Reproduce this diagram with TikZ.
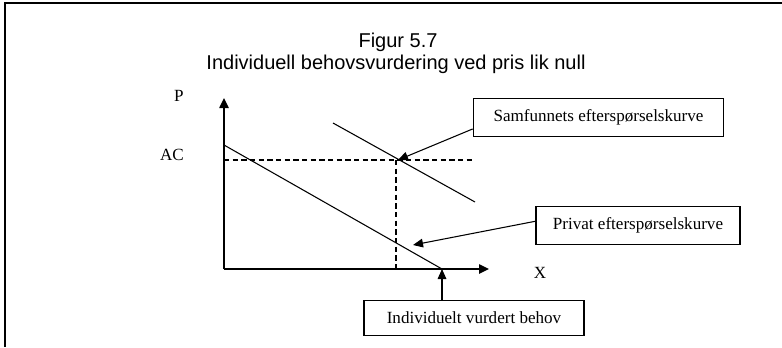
\documentclass[tikz,border=0pt]{standalone}
\usepackage{fontspec}
\setmainfont{Liberation Serif}
\newfontfamily\headfont{Liberation Sans}
\usetikzlibrary{arrows.meta}
\begin{document}
\begin{tikzpicture}[x=0.75pt,y=-0.75pt,
  frameline/.style={line width=1.5pt},
  axisline/.style={line width=1.1pt,-{Triangle[length=7.5pt,width=7pt]}},
  curve/.style={line width=0.8pt},
  guide/.style={line width=0.8pt,dash pattern=on 4pt off 2.5pt},
  pointer/.style={line width=0.8pt,-{Triangle[length=7.5pt,width=6.5pt]}},
  labelbox/.style={draw,line width=0.8pt,inner sep=0pt,
    font=\fontsize{12.8pt}{15pt}\selectfont},
  axislabel/.style={inner sep=0pt,font=\fontsize{12.8pt}{15pt}\selectfont},
  heading/.style={inner sep=0pt,font=\headfont\fontsize{15pt}{18pt}\selectfont}]
\useasboundingbox (0,0) rectangle (782,347);

% open frame (top and left edges)
\draw[frameline] (782,3) -- (5,3) -- (5,347);

% heading
\node[heading,anchor=base] (title) at (398,47) {Figur 5.7};
\node[heading,anchor=base] (subtitle) at (396,69) {Individuell behovsvurdering ved pris lik null};

% axes
\coordinate (O) at (224,269);
\coordinate (ytop) at (224,98);
\coordinate (xend) at (489,269);
\draw[axisline] (O) -- (ytop);
\draw[axisline] (O) -- (xend);
\node[axislabel,anchor=east] (P) at (184,96) {P};
\node[axislabel,anchor=east] (AC) at (184,155) {AC};
\node[axislabel] (X) at (540,273) {X};

% demand curves
\coordinate (priv1) at (224,145);
\coordinate (priv2) at (442,269);
\coordinate (soc1) at (333,123);
\coordinate (soc2) at (475,202);
\draw[curve] (priv1) -- (priv2);
\draw[curve] (soc1) -- (soc2);

% average cost level and the quantity it gives on the social curve
\coordinate (acL) at (224,160);
\coordinate (acR) at (475,160);
\coordinate (E) at (398,160);
\coordinate (Ex) at (396,269);
\draw[guide] (acL) -- (acR);
\draw[guide] (396,160) -- (Ex);

% labelled boxes
\node[labelbox,minimum width=188pt,minimum height=29pt] (sam) at (598.5,117.5) {Samfunnets efterspørselskurve};
\node[labelbox,minimum width=153pt,minimum height=28pt] (priv) at (638,225.5) {Privat efterspørselskurve};
\node[labelbox,minimum width=165pt,minimum height=26pt] (indiv) at (474,318) {Individuelt vurdert behov};

% pointers
\coordinate (privtip) at (413,245);
\draw[pointer] ([yshift=-8.6pt]sam.west) -- (E);
\draw[pointer] ([yshift=3.2pt]priv.west) -- (privtip);
\draw[pointer] (indiv.north -| priv2) -- (priv2);
\end{tikzpicture}
\end{document}
